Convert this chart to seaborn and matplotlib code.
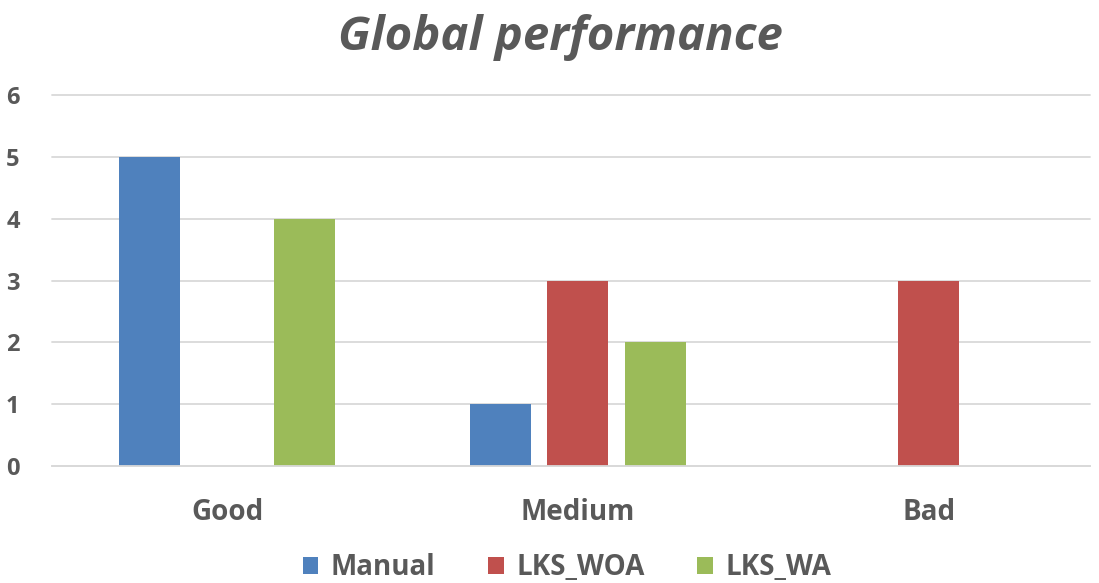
import matplotlib
matplotlib.use('Agg')
import matplotlib.pyplot as plt
import seaborn as sns
import pandas as pd

CATEGORIES = ['Good', 'Medium', 'Bad']
SERIES     = ['Manual', 'LKS_WOA', 'LKS_WA']
MANUAL     = [5, 1, 0]
LKS_WOA    = [0, 3, 3]
LKS_WA     = [4, 2, 0]
COLORS     = ['#4F81BD', '#C0504D', '#9BBB59']
TEXT_COL   = '#595959'

df = pd.DataFrame({
    'category': CATEGORIES * 3,
    'series':   [s for s in SERIES for _ in CATEGORIES],
    'value':    MANUAL + LKS_WOA + LKS_WA,
})

sns.set_theme(style='white')
plt.rcParams['font.family'] = ['Open Sans', 'DejaVu Sans']

fig = plt.figure(figsize=(10.99, 5.83), dpi=100)
ax = fig.add_axes([0.047, 0.2007, 0.945, 0.6357])

sns.barplot(data=df, x='category', y='value', hue='series', order=CATEGORIES,
            hue_order=SERIES, palette=COLORS, width=0.66, gap=0.21,
            saturation=1, linewidth=0, ax=ax, legend=True)

ax.set_xlim(-0.5, 2.46)
ax.set_ylim(0, 6)
ax.set_yticks(range(7))
ax.yaxis.grid(True, color='#D9D9D9', linewidth=1.3, clip_on=False)
ax.set_axisbelow(True)
for s in ['top', 'right', 'left']:
    ax.spines[s].set_visible(False)
ax.spines['bottom'].set_color('#D9D9D9')
ax.spines['bottom'].set_linewidth(1.3)
ax.tick_params(axis='y', length=0, pad=23, labelsize=17, labelcolor=TEXT_COL)
ax.tick_params(axis='x', length=0, pad=23, labelsize=20, labelcolor=TEXT_COL)
for lbl in ax.get_xticklabels() + ax.get_yticklabels():
    lbl.set_fontweight('bold')
ax.set_xlabel('')
ax.set_ylabel('')

fig.text(0.51, 0.935, 'Global performance', ha='center', va='center',
         fontsize=34, fontweight='bold', fontstyle='italic', color=TEXT_COL)

ax.legend_.remove()
handles, labels = ax.get_legend_handles_labels()
leg = fig.legend(handles, labels, loc='center', bbox_to_anchor=(0.516, 0.026),
                 ncol=3, frameon=False, handlelength=0.55, handleheight=0.55,
                 handletextpad=0.45, columnspacing=1.9,
                 prop={'size': 20, 'weight': 'bold'})
for t in leg.get_texts():
    t.set_color(TEXT_COL)

fig.savefig('out.png', dpi=100)
